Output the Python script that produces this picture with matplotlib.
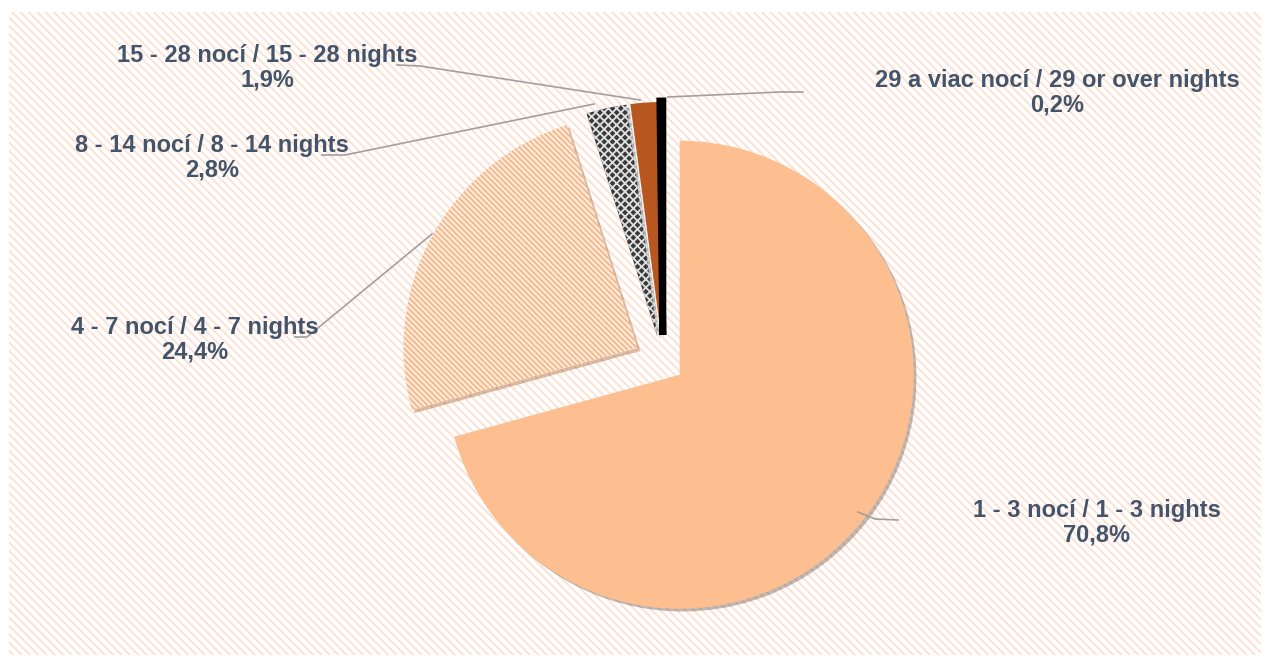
import matplotlib
matplotlib.use('Agg')
import matplotlib.pyplot as plt
import matplotlib.patches as patches
import matplotlib.patheffects as pe

W, H = 1269, 664

# data
categories = ['1 - 3 nocí / 1 - 3 nights', '4 - 7 nocí / 4 - 7 nights',
              '8 - 14 nocí / 8 - 14 nights', '15 - 28 nocí / 15 - 28 nights',
              '29 a viac nocí / 29 or over nights']
shares = [70.8, 24.4, 2.8, 1.9, 0.2]
share_labels = ['70,8%', '24,4%', '2,8%', '1,9%', '0,2%']

# explode offsets in pixels (pie explode is in data units here)
explode = [21, 29, 26, 26, 27]
colors = ['#FDBF90', '#FDEBDD', '#3A3A3A', '#B8561F', '#000000']
hatches = [None, '\\\\\\\\\\\\', 'xxxx', None, None]
hatch_cols = ['#E9A878', '#F5B788', '#E0E0E0', '#8A3A10', '#000000']
edge_widths = [0, 0, 0, 0, 5]

# label centres and leader lines, in pixel coords (y from top)
label_pos = [(1097, 523), (195, 340), (212, 158), (267, 68), (1057, 93)]
leaders = [[(858, 512), (875, 519), (898, 520)],
           [(432, 234), (307, 337), (295, 337)],
           [(594, 104), (345, 155), (322, 155)],
           [(640, 100), (420, 66), (397, 65)],
           [(668, 97), (780, 92), (803, 92)]]

def px(p):
    return p[0], H - p[1]

plt.rcParams['hatch.linewidth'] = 1.3
fig = plt.figure(figsize=(W / 100, H / 100), dpi=100)
ax = fig.add_axes([0, 0, 1, 1])
fig.patch.set_facecolor('white')

# striped background
bg = patches.Rectangle((9, 9), 1252, 643, facecolor='white',
                       edgecolor='#FDE0D0', hatch='\\\\\\\\', linewidth=0, zorder=0)
ax.add_patch(bg)

wedges, _ = ax.pie(shares, explode=explode, colors=colors, startangle=90,
                   counterclock=False, center=(663, H - 362), radius=234,
                   wedgeprops=dict(linewidth=0), frame=True)
plt.rcParams['hatch.linewidth'] = 1.2
for w, h, hc, lw in zip(wedges, hatches, hatch_cols, edge_widths):
    w.set_zorder(2)
    w.set_edgecolor(hc)
    w.set_linewidth(lw)
    if h:
        w.set_hatch(h)
    w.set_path_effects([pe.SimplePatchShadow(offset=(2, -2), alpha=0.35),
                        pe.Normal()])

for pts in leaders:
    xs = [px(p)[0] for p in pts]
    ys = [px(p)[1] for p in pts]
    ax.plot(xs, ys, color='#A0A0A0', linewidth=1.2, zorder=3)

for cat, lab, pos in zip(categories, share_labels, label_pos):
    x, y = px(pos)
    ax.text(x, y, cat + '\n' + lab, ha='center', va='center',
            fontsize=17, fontweight='bold', family='Liberation Sans',
            color='#44546A', linespacing=1.1, zorder=4)

ax.set_xlim(0, W)
ax.set_ylim(0, H)
ax.set_aspect('auto')
ax.axis('off')

fig.savefig('out.png', dpi=100)
